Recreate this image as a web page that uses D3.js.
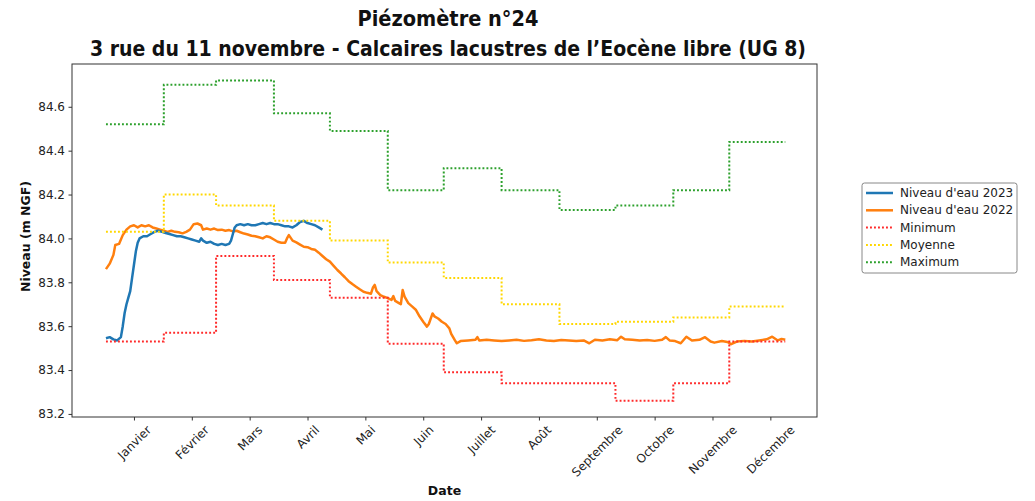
<!DOCTYPE html>
<html>
<head>
<meta charset="utf-8">
<script src="https://cdn.jsdelivr.net/npm/d3@7"></script>
<style>
  html, body { margin: 0; padding: 0; background: #fff; }
  svg { display: block; font-family: "DejaVu Sans", sans-serif; }
</style>
</head>
<body>
<svg id="chart" width="1035" height="501"></svg>
<script>
// Monthly tick labels, placed at day-of-year positions
const monthLabels = ["Janvier", "Février", "Mars", "Avril", "Mai", "Juin",
  "Juillet", "Août", "Septembre", "Octobre", "Novembre", "Décembre"];
const monthTickDays = [15, 46, 77, 108, 139, 170, 201, 232, 263, 294, 325, 356];

// First day-of-year of each month, and the last day of the year
const monthStartDays = [0, 31, 59, 90, 120, 151, 181, 212, 243, 273, 304, 334];
const yearEndDay = 364;

// Monthly statistics of the water level (m NGF)
const minimumLevels = [83.53, 83.57, 83.92, 83.81, 83.73, 83.52, 83.39, 83.34, 83.34, 83.26, 83.34, 83.53];
const meanLevels    = [84.03, 84.20, 84.15, 84.08, 83.99, 83.89, 83.82, 83.70, 83.61, 83.62, 83.64, 83.69];
const maximumLevels = [84.52, 84.70, 84.72, 84.57, 84.49, 84.22, 84.32, 84.22, 84.13, 84.15, 84.22, 84.44];

// 2023 water level (day of year, m NGF)
const days2023 = [0, 2, 4, 6, 8, 9, 10, 11, 12, 13, 14, 15, 16, 17, 18, 20, 22, 24, 26, 28,
  30, 32, 34, 36, 38, 40, 42, 44, 46, 48, 50, 51, 52, 54, 56, 58, 60, 62, 64, 66,
  67, 68, 69, 70, 72, 74, 76, 78, 80, 82, 84, 86, 88, 90, 92, 94, 96, 98, 100, 102,
  104, 106, 108, 110, 112, 114, 116];
const levels2023 = [83.545, 83.55, 83.54, 83.535, 83.55, 83.60, 83.66, 83.70, 83.73, 83.76,
  83.82, 83.88, 83.94, 83.98, 84.00, 84.01, 84.01, 84.02, 84.03, 84.035,
  84.03, 84.025, 84.02, 84.015, 84.01, 84.01, 84.005, 84.0, 83.995, 83.99,
  83.985, 84.0, 83.99, 83.98, 83.985, 83.975, 83.97, 83.975, 83.97, 83.975,
  83.99, 84.02, 84.05, 84.06, 84.065, 84.06, 84.065, 84.06, 84.06, 84.065,
  84.07, 84.065, 84.07, 84.065, 84.065, 84.06, 84.055, 84.055, 84.05, 84.06,
  84.075, 84.08, 84.07, 84.065, 84.06, 84.05, 84.04];

// 2022 water level (day of year, m NGF)
const days2022 = [0, 2, 4, 5, 7, 9, 11, 13, 15, 17, 19, 21, 23, 25, 27, 29, 31, 33, 35, 37,
  39, 41, 43, 45, 47, 49, 51, 52, 54, 56, 58, 60, 62, 64, 66, 68, 70, 72, 74, 76,
  78, 80, 82, 84, 86, 88, 90, 92, 94, 96, 97, 98, 100, 102, 104, 106, 108, 110, 112, 114,
  116, 118, 120, 122, 124, 126, 128, 130, 132, 134, 136, 138, 140, 142, 143, 144, 145, 147, 149, 151,
  153, 154, 155, 157, 158, 159, 160, 162, 164, 166, 168, 170, 172, 173, 175, 176, 178, 180, 182, 184,
  185, 187, 188, 190, 194, 198, 199, 200, 204, 208, 212, 216, 220, 224, 228, 232, 236, 240, 244, 248,
  252, 256, 259, 262, 266, 270, 274, 276, 278, 282, 286, 290, 294, 298, 300, 302, 305, 308, 311, 314,
  318, 321, 324, 326, 330, 333, 335, 338, 342, 346, 350, 354, 357, 360, 362, 364];
const levels2022 = [83.86, 83.885, 83.925, 83.97, 83.975, 84.015, 84.04, 84.055, 84.06, 84.05,
  84.06, 84.055, 84.06, 84.05, 84.045, 84.04, 84.035, 84.03, 84.035, 84.03,
  84.028, 84.023, 84.03, 84.04, 84.065, 84.068, 84.06, 84.04, 84.045, 84.04,
  84.045, 84.038, 84.04, 84.035, 84.038, 84.032, 84.035, 84.028, 84.022, 84.018,
  84.012, 84.01, 84.005, 84.0, 84.01, 84.005, 83.995, 83.985, 83.98, 83.98,
  84.0, 84.015, 83.99, 83.982, 83.972, 83.962, 83.96, 83.952, 83.948, 83.935,
  83.92, 83.905, 83.894, 83.875, 83.856, 83.84, 83.823, 83.805, 83.792, 83.78,
  83.768, 83.757, 83.752, 83.748, 83.775, 83.788, 83.76, 83.742, 83.734, 83.728,
  83.72, 83.737, 83.715, 83.705, 83.70, 83.765, 83.735, 83.705, 83.69, 83.675,
  83.645, 83.62, 83.598, 83.61, 83.658, 83.645, 83.635, 83.62, 83.61, 83.59,
  83.565, 83.535, 83.522, 83.532, 83.535, 83.538, 83.55, 83.535, 83.538, 83.535,
  83.532, 83.535, 83.538, 83.533, 83.536, 83.54, 83.535, 83.532, 83.537, 83.535,
  83.532, 83.535, 83.522, 83.538, 83.535, 83.54, 83.536, 83.552, 83.54, 83.538,
  83.535, 83.537, 83.533, 83.538, 83.55, 83.535, 83.532, 83.522, 83.552, 83.535,
  83.538, 83.55, 83.53, 83.525, 83.532, 83.528, 83.518, 83.53, 83.533, 83.53,
  83.535, 83.54, 83.552, 83.535, 83.542, 83.538];

const yTicks = [83.2, 83.4, 83.6, 83.8, 84.0, 84.2, 84.4, 84.6];

// ---- layout ----
const plot = { left: 72, right: 817, top: 64, bottom: 417 };
const svg = d3.select("#chart");
svg.append("rect").attr("width", 1035).attr("height", 501).attr("fill", "#fff");

const x = d3.scaleLinear().domain([-18.2, 381]).range([plot.left, plot.right]);
const y = d3.scaleLinear().domain([83.186, 84.795]).range([plot.bottom, plot.top]);

const colors = {
  y2023: "#1f77b4",
  y2022: "#ff7f0e",
  min: "#ff2a2a",
  mean: "#ffd700",
  max: "#2ca02c"
};

// ---- series ----
const lineGen = d3.line().x(d => x(d[0])).y(d => y(d[1]));
const stepGen = d3.line().x(d => x(d[0])).y(d => y(d[1])).curve(d3.curveStepAfter);

const series2022 = days2022.map((d, i) => [d, levels2022[i]]);
const series2023 = days2023.map((d, i) => [d, levels2023[i]]);
const monthly = levels => monthStartDays.map((d, i) => [d, levels[i]])
  .concat([[yearEndDay, levels[levels.length - 1]]]);

const g = svg.append("g");
g.append("path").datum(series2022).attr("d", lineGen)
  .attr("fill", "none").attr("stroke", colors.y2022).attr("stroke-width", 2.5)
  .attr("stroke-linejoin", "round");
g.append("path").datum(series2023).attr("d", lineGen)
  .attr("fill", "none").attr("stroke", colors.y2023).attr("stroke-width", 2.5)
  .attr("stroke-linejoin", "round");

[[minimumLevels, colors.min], [meanLevels, colors.mean], [maximumLevels, colors.max]]
  .forEach(([levels, col]) => {
    g.append("path").datum(monthly(levels)).attr("d", stepGen)
      .attr("fill", "none").attr("stroke", col).attr("stroke-width", 2)
      .attr("stroke-dasharray", "1.9 2.1");
  });

// ---- frame ----
svg.append("rect")
  .attr("x", plot.left).attr("y", plot.top)
  .attr("width", plot.right - plot.left).attr("height", plot.bottom - plot.top)
  .attr("fill", "none").attr("stroke", "#333").attr("stroke-width", 1);

// ---- y axis ----
const yAxis = svg.append("g")
  .attr("transform", `translate(${plot.left},0)`)
  .call(d3.axisLeft(y).tickValues(yTicks).tickFormat(d3.format(".1f")).tickSize(3.5).tickPadding(3.5));
yAxis.select(".domain").remove();
yAxis.selectAll("line").attr("stroke", "#333");
yAxis.selectAll("text").attr("font-size", 12).attr("fill", "#222")
  .attr("font-family", "DejaVu Sans");

// ---- x axis ----
const xAxis = svg.append("g")
  .attr("transform", `translate(0,${plot.bottom})`)
  .call(d3.axisBottom(x).tickValues(monthTickDays).tickFormat((d, i) => monthLabels[i]).tickSize(3.5));
xAxis.select(".domain").remove();
xAxis.selectAll("line").attr("stroke", "#333");
xAxis.selectAll("text").each(function () {
  const t = d3.select(this)
    .attr("font-size", 12).attr("fill", "#222").attr("font-family", "DejaVu Sans")
    .attr("text-anchor", "middle").attr("dy", null).attr("y", null)
    .attr("dominant-baseline", "central");
  const w = this.getComputedTextLength();
  const half = (w + 11) * Math.SQRT1_2 / 2;
  t.attr("transform", `translate(0,${7 + half}) rotate(-45)`);
});

// ---- axis titles ----
svg.append("text")
  .attr("x", (plot.left + plot.right) / 2).attr("y", 495)
  .attr("text-anchor", "middle").attr("font-size", 12.5).attr("font-weight", "bold")
  .attr("fill", "#111").text("Date");

svg.append("text")
  .attr("transform", `translate(30,${(plot.top + plot.bottom) / 2 - 4}) rotate(-90)`)
  .attr("text-anchor", "middle").attr("font-size", 12.5).attr("font-weight", "bold")
  .attr("fill", "#111").text("Niveau (m NGF)");

// ---- title ----
const titleLines = ["Piézomètre n°24", "3 rue du 11 novembre - Calcaires lacustres de l’Eocène libre (UG 8)"];
const titleWidths = [181, 716];
const titleBaselines = [26, 56];
titleLines.forEach((line, i) => {
  svg.append("text")
    .attr("x", 448).attr("y", titleBaselines[i])
    .attr("text-anchor", "middle")
    .attr("font-family", "DejaVu Sans Condensed, DejaVu Sans")
    .attr("font-size", 21).attr("font-weight", "bold").attr("fill", "#111")
    .attr("textLength", titleWidths[i]).attr("lengthAdjust", "spacingAndGlyphs")
    .text(line);
});

// ---- legend ----
const legendItems = [
  { label: "Niveau d'eau 2023", color: colors.y2023, dotted: false },
  { label: "Niveau d'eau 2022", color: colors.y2022, dotted: false },
  { label: "Minimum", color: colors.min, dotted: true },
  { label: "Moyenne", color: colors.mean, dotted: true },
  { label: "Maximum", color: colors.max, dotted: true }
];
const legend = svg.append("g").attr("transform", "translate(862,183)");
legend.append("rect")
  .attr("width", 155).attr("height", 90).attr("rx", 2.5)
  .attr("fill", "#fff").attr("stroke", "#888").attr("stroke-width", 1);
legendItems.forEach((item, i) => {
  const cy = 10 + i * 17.3;
  legend.append("line")
    .attr("x1", 4).attr("x2", 31).attr("y1", cy).attr("y2", cy)
    .attr("stroke", item.color)
    .attr("stroke-width", item.dotted ? 2 : 2.5)
    .attr("stroke-dasharray", item.dotted ? "1.9 2.1" : null);
  legend.append("text")
    .attr("x", 38).attr("y", cy).attr("dominant-baseline", "central")
    .attr("font-size", 12).attr("fill", "#222").text(item.label);
});
</script>
</body>
</html>
